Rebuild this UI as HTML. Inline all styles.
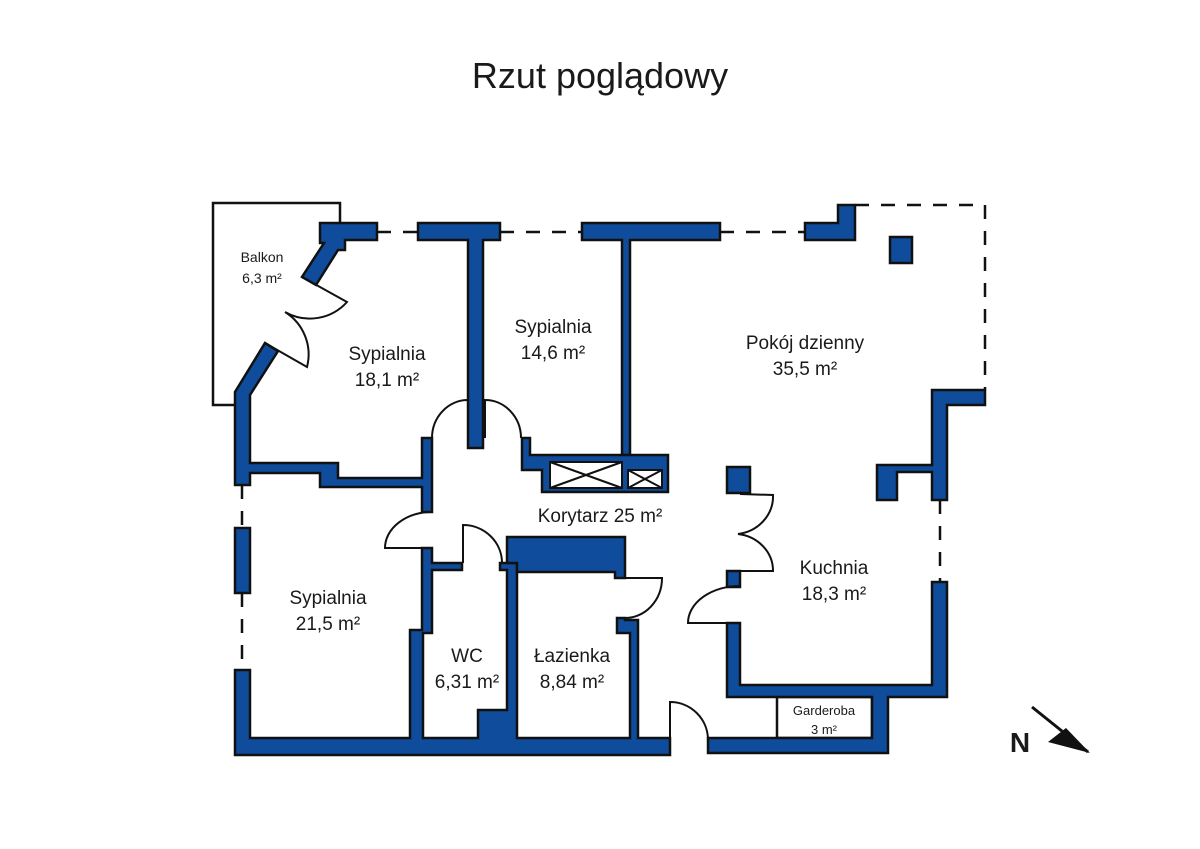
<!DOCTYPE html>
<html><head><meta charset="utf-8"><style>
html,body{margin:0;padding:0;background:#fff;}
svg{display:block;}
text{font-family:"Liberation Sans",sans-serif;fill:#1a1a1a;}
</style></head><body>
<svg width="1200" height="849" viewBox="0 0 1200 849" xmlns="http://www.w3.org/2000/svg">
<text x="600" y="88" font-size="36" text-anchor="middle">Rzut poglądowy</text>
<g fill="none" stroke="#111" stroke-width="2.5" stroke-dasharray="14,12">
<line x1="377" y1="232" x2="418" y2="232"/>
<line x1="500" y1="232" x2="582" y2="232"/>
<line x1="720" y1="232" x2="805" y2="232"/>
<line x1="855" y1="205" x2="985" y2="205"/>
<line x1="985" y1="205" x2="985" y2="390"/>
<line x1="940" y1="500" x2="940" y2="582"/>
<line x1="242" y1="485" x2="242" y2="528"/>
<line x1="242" y1="593" x2="242" y2="670"/>
</g>
<g fill="#fff" stroke="#111" stroke-width="2.5">
<polyline points="235,405 213,405 213,203 340,203 340,223" fill="none"/>
<rect x="777" y="697" width="95" height="41"/>
</g>
<g fill="#0f4c9c" stroke="#111" stroke-width="2.5" stroke-linejoin="miter">
<polygon points="320,223 377,223 377,240 345,240 345,250 338,250 316,285 302,277 324,243 320,243"/>
<polygon points="265,343 278,351 250,395 250,463 338,463 338,478 422,478 422,438 432,438 432,512 422,512 422,487 320,487 320,473 250,473 250,485 235,485 235,392"/>
<rect x="235" y="528" width="15" height="65"/>
<polygon points="235,670 250,670 250,738 410,738 410,630 422,630 422,548 432,548 432,563 462,563 462,570 432,570 432,633 423,633 423,738 478,738 478,710 507,710 507,570 500,570 500,563 517,563 517,738 630,738 630,633 617,633 617,618 625,618 625,620 638,620 638,738 670,738 670,755 235,755"/>
<polygon points="507,537 625,537 625,578 615,578 615,572 517,572 517,563 507,563"/>
<polygon points="418,223 500,223 500,240 483,240 483,448 468,448 468,240 418,240"/>
<polygon points="582,223 720,223 720,240 630,240 630,455 622,455 622,240 582,240"/>
<polygon points="522,438 530,438 530,455 668,455 668,492 542,492 542,470 522,470"/>
<polygon points="805,223 838,223 838,205 855,205 855,240 805,240"/>
<rect x="890" y="237" width="22" height="26"/>
<polygon points="985,390 985,405 947,405 947,500 932,500 932,472 897,472 897,500 877,500 877,465 932,465 932,390"/>
<rect x="727" y="467" width="23" height="26"/>
<polygon points="932,582 947,582 947,697 888,697 888,753 708,753 708,738 872,738 872,697 727,697 727,623 740,623 740,685 932,685"/>
<rect x="727" y="571" width="13" height="16"/>
</g>
<g fill="#fff" stroke="#111" stroke-width="2">
<rect x="550" y="462" width="72" height="26"/>
<rect x="628" y="470" width="34" height="18"/>
</g>
<g fill="none" stroke="#111" stroke-width="2">
<path d="M550,462 L622,488 M550,488 L622,462 M628,470 L662,488 M628,488 L662,470"/>
<path d="M302,277 L347,302 A50,50 0 0 1 285,312 A50,50 0 0 1 307,367 L265,343"/>
<path d="M432,438 A36,38 0 0 1 468,400 L468,438 M485,438 L485,400 A36,38 0 0 1 521,438"/>
<path d="M432,512 A47,36 0 0 0 385,548 L432,548"/>
<path d="M463,563 L463,525 A39,38 0 0 1 502,563"/>
<path d="M625,578 L662,578 A37,40 0 0 1 625,618"/>
<path d="M740,494 L773,495 A40,38 0 0 1 738,534 A40,37 0 0 1 773,571 L740,571"/>
<path d="M740,586 A52,37 0 0 0 688,623 L727,623"/>
<path d="M670,738 L670,702 A38,38 0 0 1 708,740"/>
</g>
<g text-anchor="middle">
<text x="262" y="262" font-size="14">Balkon</text>
<text x="262" y="283" font-size="14">6,3 m²</text>
<text x="387" y="360" font-size="19">Sypialnia</text>
<text x="387" y="386" font-size="19">18,1 m²</text>
<text x="553" y="333" font-size="19">Sypialnia</text>
<text x="553" y="359" font-size="19">14,6 m²</text>
<text x="805" y="349" font-size="19">Pokój dzienny</text>
<text x="805" y="375" font-size="19">35,5 m²</text>
<text x="600" y="522" font-size="19">Korytarz 25 m²</text>
<text x="328" y="604" font-size="19">Sypialnia</text>
<text x="328" y="630" font-size="19">21,5 m²</text>
<text x="467" y="662" font-size="19">WC</text>
<text x="467" y="688" font-size="19">6,31 m²</text>
<text x="572" y="662" font-size="19">Łazienka</text>
<text x="572" y="688" font-size="19">8,84 m²</text>
<text x="834" y="574" font-size="19">Kuchnia</text>
<text x="834" y="600" font-size="19">18,3 m²</text>
<text x="824" y="715" font-size="13">Garderoba</text>
<text x="824" y="734" font-size="13">3 m²</text>
<text x="1020" y="752" font-size="28" font-weight="bold">N</text>
</g>
<line x1="1032" y1="707" x2="1088" y2="752" stroke="#111" stroke-width="3"/>
<polygon points="1090,753 1048,742 1066,728" fill="#111"/>
</svg>
</body></html>
